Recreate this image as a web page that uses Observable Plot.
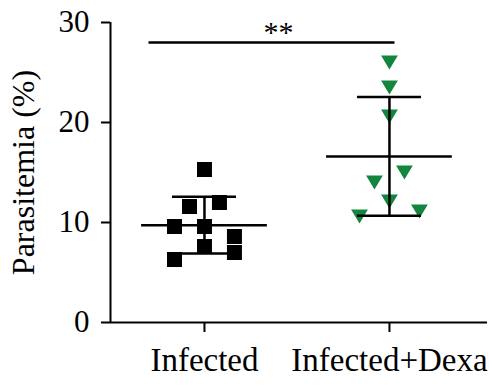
<!DOCTYPE html>
<html>
<head>
<meta charset="utf-8">
<script src="https://cdn.jsdelivr.net/npm/d3@7"></script>
<script src="https://cdn.jsdelivr.net/npm/@observablehq/plot@0.6"></script>
<style>
  html, body { margin: 0; padding: 0; background: #fff; }
  svg, svg g, svg text { font-family: "Liberation Serif", "Times New Roman", serif !important; }
</style>
</head>
<body>
<div id="chart"></div>
<script>
// ---- data ----
const groups = ["Infected", "Infected+Dexa"];
const infectedValues = [15.3, 11.6, 12.0, 9.6, 9.6, 8.6, 7.6, 7.0, 6.3];
const infectedSlots  = [0, -1, 1, -2, 0, 2, 0, 2, -2];
const dexaValues = [26.0, 23.5, 20.6, 15.0, 14.0, 12.1, 10.6, 11.1];
const dexaSlots  = [0, 0, 0, 1, -1, 0, -2, 2];
const yTicks = [0, 10, 20, 30];
const yLabel = "Parasitemia (%)";
const sigText = "**";
const sigLevel = 28.0;     // y value of significance bar
const sigSpan = [-0.30, 1.03];
const yDomain = [0, 30];

// ---- layout params ----
const slotStep = 0.081;
const meanHalf = 0.34;
const capHalf = 0.173;
const green = "#13853f";
const font = "Liberation Serif";

const points = [
  ...infectedValues.map((v, k) => ({g: 0, v, slot: infectedSlots[k]})),
  ...dexaValues.map((v, k) => ({g: 1, v, slot: dexaSlots[k]}))
];
const stats = [infectedValues, dexaValues].map((vals, i) => {
  const m = d3.mean(vals), s = d3.deviation(vals);
  return {i, mean: m, lo: m - s, hi: m + s};
});

const triangleDown = {
  draw(ctx, size) {
    const s = Math.sqrt(size);
    const w = s * 1.12, h = s * 0.95;
    ctx.moveTo(-w / 2, -h / 2);
    ctx.lineTo(w / 2, -h / 2);
    ctx.lineTo(0, h / 2);
    ctx.closePath();
  }
};

const xDomain = [-0.508, 1.530];

const chart = Plot.plot({
  width: 489,
  height: 385,
  marginLeft: 110,
  marginRight: 2,
  marginTop: 22,
  marginBottom: 63,
  style: {fontFamily: font, background: "#fff"},
  x: {domain: xDomain},
  y: {domain: yDomain},
  marks: [
    Plot.axisY({ticks: yTicks, tickSize: 9, tickPadding: 12, fontSize: 31, strokeWidth: 2, color: "black", label: null}),
    Plot.axisX({ticks: [0, 1], tickFormat: i => groups[i], tickSize: 10, tickPadding: 15, fontSize: 33, strokeWidth: 2, color: "black", label: null}),
    Plot.ruleY([0], {stroke: "black", strokeWidth: 2}),
    Plot.ruleX([xDomain[0]], {stroke: "black", strokeWidth: 2}),
    Plot.text([yLabel], {x: () => xDomain[0], y: () => (yDomain[0] + yDomain[1]) / 2, dx: -87, rotate: -90, fontSize: 32, fill: "black"}),
    // points
    Plot.dot(points.filter(d => d.g === 0), {x: d => d.g + d.slot * slotStep, y: "v", symbol: "square", r: 8.46, fill: "black", stroke: "none"}),
    Plot.dot(points.filter(d => d.g === 1), {x: d => d.g + d.slot * slotStep, y: "v", symbol: triangleDown, r: 8.46, fill: green, stroke: "none"}),
    // mean and SD
    Plot.ruleY(stats, {y: "mean", x1: d => d.i - meanHalf, x2: d => d.i + meanHalf, stroke: "black", strokeWidth: 2.5}),
    Plot.ruleX(stats, {x: "i", y1: "lo", y2: "hi", stroke: "black", strokeWidth: 2.5}),
    Plot.ruleY(stats, {y: "hi", x1: d => d.i - capHalf, x2: d => d.i + capHalf, stroke: "black", strokeWidth: 2.5}),
    Plot.ruleY(stats, {y: "lo", x1: d => d.i - capHalf, x2: d => d.i + capHalf, stroke: "black", strokeWidth: 2.5}),
    // significance
    Plot.ruleY([sigLevel], {x1: sigSpan[0], x2: sigSpan[1], stroke: "black", strokeWidth: 2.5}),
    Plot.text([sigText], {x: (sigSpan[0] + sigSpan[1]) / 2 + 0.035, y: sigLevel, dy: -10, fontSize: 30, fill: "black"})
  ]
});
chart.querySelectorAll("text, g").forEach(el => { el.style.fontFamily = "'Liberation Serif', serif"; });
document.getElementById("chart").appendChild(chart);
</script>
</body>
</html>
